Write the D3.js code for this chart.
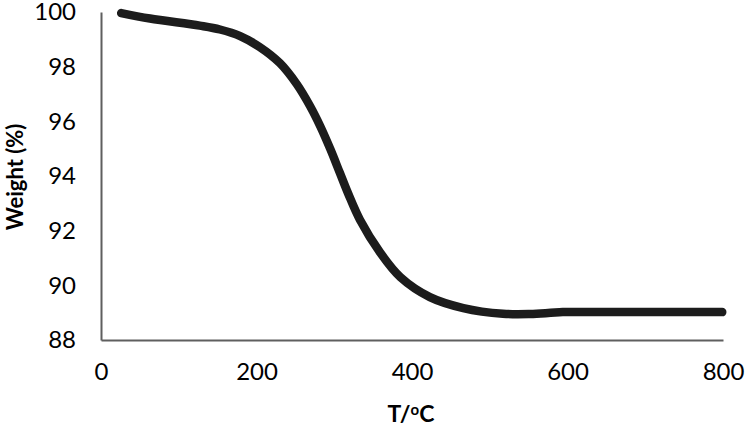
<!DOCTYPE html>
<html><head><meta charset="utf-8">
<script src="https://cdn.jsdelivr.net/npm/d3@7"></script>
<style>html,body{margin:0;padding:0;background:#fff;}svg{display:block;}</style>
</head><body>
<svg id="c" width="747" height="428"></svg>
<script>
const temperature = [26, 63, 127, 153, 179, 204, 230, 252, 269, 282, 295, 307, 318, 333, 359, 385, 423, 466, 517, 552, 594, 668, 799];
const weight = [99.96, 99.76, 99.50, 99.36, 99.12, 98.72, 98.13, 97.35, 96.55, 95.82, 94.98, 94.13, 93.35, 92.40, 91.20, 90.30, 89.57, 89.17, 88.96, 88.95, 89.02, 89.02, 89.02];
const xTicks = [0, 200, 400, 600, 800];
const yTicks = [88, 90, 92, 94, 96, 98, 100];

const svg = d3.select("#c");
const x = d3.scaleLinear().domain([0, 800]).range([101, 723]);
const y = d3.scaleLinear().domain([88, 100]).range([340, 12]);
const font = "Lato, 'Open Sans', sans-serif";

// axes
const xa = svg.append("g").attr("transform", `translate(0,${y(88)})`)
  .call(d3.axisBottom(x).tickValues(xTicks).tickSize(0).tickPadding(23));
const ya = svg.append("g").attr("transform", `translate(${x(0)},0)`)
  .call(d3.axisLeft(y).tickValues(yTicks).tickSize(0).tickPadding(25));
[xa, ya].forEach(g => {
  g.select(".domain").attr("stroke", "#5f5f5f").attr("stroke-width", 2);
  g.selectAll("text").attr("font-family", font).attr("font-size", 24).attr("fill", "#000");
});

// curve
const pts = temperature.map((t, i) => [t, weight[i]]);
svg.append("path").datum(pts)
  .attr("fill", "none").attr("stroke", "#1c1c1c").attr("stroke-width", 8.5)
  .attr("stroke-linecap", "round").attr("stroke-linejoin", "round")
  .attr("d", d3.line().x(d => x(d[0])).y(d => y(d[1])).curve(d3.curveCatmullRom.alpha(0.5)));

// axis titles
const xt = svg.append("text").attr("x", 411).attr("y", 422).attr("text-anchor", "middle")
  .attr("font-family", font).attr("font-weight", "bold").attr("font-size", 23);
xt.append("tspan").text("T/");
xt.append("tspan").attr("font-size", 15).attr("dy", -7).text("o");
xt.append("tspan").attr("dy", 7).text("C");

svg.append("text").attr("transform", "translate(23,177) rotate(-90)").attr("text-anchor", "middle")
  .attr("font-family", font).attr("font-weight", "bold").attr("font-size", 22).text("Weight (%)");
</script>
</body></html>
